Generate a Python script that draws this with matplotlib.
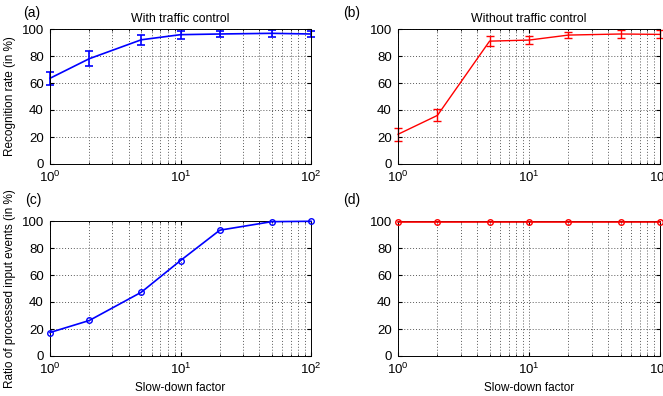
import matplotlib
matplotlib.use("Agg")
import matplotlib.pyplot as plt

plt.rcParams['font.family'] = ['Liberation Sans', 'DejaVu Sans']
plt.rcParams['mathtext.default'] = 'regular'
plt.rcParams['font.size'] = 7.5

# slow-down factors
factors = [1, 2, 5, 10, 20, 50, 100]

# recognition rate with / without traffic control (mean and error)
rec_with = [63.5, 78, 92, 95.8, 96.3, 96.8, 96.3]
rec_with_err = [5, 5.5, 3.5, 3, 2.5, 2.5, 2.5]
rec_without = [22, 36, 91, 91.8, 95.5, 96.3, 96]
rec_without_err = [4.6, 4.5, 3.7, 3, 2, 3, 3]

# ratio of processed input events
proc_with = [17.4, 26.3, 47.2, 70.7, 93.2, 99.5, 99.8]
proc_without = [99.6, 99.6, 99.6, 99.6, 99.6, 99.6, 99.6]

W, H = 663, 396
fig = plt.figure(figsize=(W / 100, H / 100), dpi=100)


def make_ax(x0, x1, y0, y1):
    ax = fig.add_axes([x0 / W, 1 - y1 / H, (x1 - x0) / W, (y1 - y0) / H])
    ax.set_xscale('log')
    ax.set_xlim(1, 100)
    ax.set_ylim(0, 100)
    ax.set_yticks([0, 20, 40, 60, 80, 100])
    gkw = dict(linestyle=(0, (1, 2)), color='0.35', linewidth=0.7)
    ax.grid(True, which='major', axis='both', **gkw)
    ax.grid(True, which='minor', axis='x', **gkw)
    ax.set_axisbelow(True)
    ax.tick_params(which='both', direction='in', top=True, right=True, labelsize=9.5)
    ax.tick_params(axis='x', which='major', length=3, pad=4)
    ax.tick_params(axis='y', which='major', length=3, pad=4.5)
    ax.tick_params(which='minor', length=1.5)
    for s in ax.spines.values():
        s.set_linewidth(0.7)
    return ax


ax_a = make_ax(50, 311, 29, 164)
ax_b = make_ax(398, 660, 29, 164)
ax_c = make_ax(50, 311, 221, 356)
ax_d = make_ax(398, 660, 221, 356)

eb = ax_a.errorbar(factors, rec_with, yerr=rec_with_err, color='blue', lw=1.2,
                   capsize=3, elinewidth=1.2, capthick=1.2)
for art in eb.get_children():
    art.set_clip_on(False)
eb = ax_b.errorbar(factors, rec_without, yerr=rec_without_err, color='red', lw=1.0,
                   capsize=3, elinewidth=1.0, capthick=1.0)
for art in eb.get_children():
    art.set_clip_on(False)
ax_c.plot(factors, proc_with, color='blue', lw=1.2, marker='o', ms=4, mfc='none',
          clip_on=False, zorder=3)
ax_d.plot(factors, proc_without, color='red', lw=1.2, marker='o', ms=4, mfc='none',
          clip_on=False, zorder=3)

ax_a.set_title('With traffic control', fontsize=8.8, pad=5)
ax_b.set_title('Without traffic control', fontsize=8.8, pad=5)
ax_a.set_ylabel('Recognition rate (in %)', fontsize=8.5)
ax_c.set_ylabel('Ratio of processed input events (in %)', fontsize=8.5)
ax_c.set_xlabel('Slow-down factor', fontsize=8.5)
ax_d.set_xlabel('Slow-down factor', fontsize=8.5)

for label, (px, py) in zip(['(a)', '(b)', '(c)', '(d)'],
                           [(23, 13), (343, 13), (25, 200), (343, 200)]):
    fig.text(px / W, 1 - py / H, label, fontsize=10, va='center', ha='left')

fig.savefig('out.png', dpi=100)
